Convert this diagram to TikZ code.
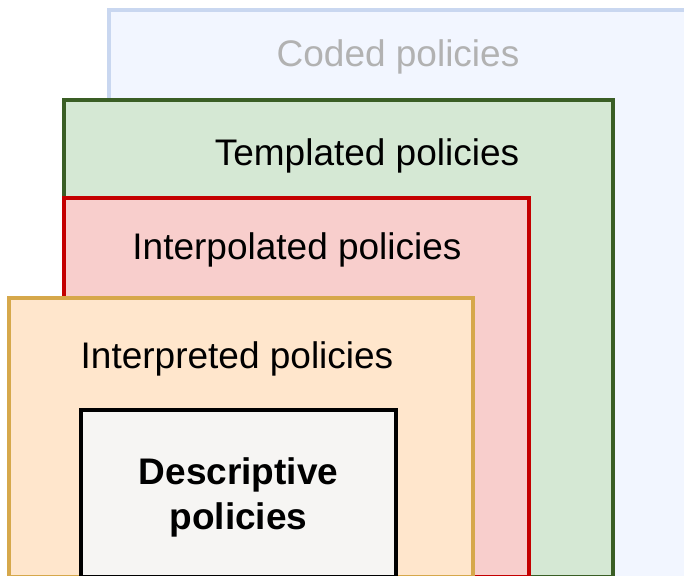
\documentclass[tikz,border=0pt]{standalone}
\usepackage{fontspec}
\setmainfont{Liberation Sans}
\definecolor{codedline}{RGB}{201,215,240}
\definecolor{codedfill}{RGB}{242,246,255}
\definecolor{codedtext}{RGB}{178,178,178}
\definecolor{templline}{RGB}{58,94,37}
\definecolor{templfill}{RGB}{213,232,212}
\definecolor{interpline}{RGB}{196,0,0}
\definecolor{interpfill}{RGB}{248,206,204}
\definecolor{interpretline}{RGB}{214,168,75}
\definecolor{interpretfill}{RGB}{255,230,204}
\definecolor{descfill}{RGB}{246,245,243}
\usetikzlibrary{positioning}

\begin{document}
\begin{tikzpicture}[
      x=1pt, y=-1pt,
      font=\fontsize{37}{45}\selectfont,
      layer/.style={rectangle, anchor=north west, line width=4.5pt, inner sep=0pt, outer sep=0pt},
      caption/.style={anchor=base, inner sep=0pt},
    ]
    \useasboundingbox (0,0) rectangle (684,575);
    % nested policy layers, outermost first
    \node[layer, draw=codedline, fill=codedfill, minimum width=600pt, minimum height=580pt] (coded) at (109,10) {};
    \node[layer, draw=templline, fill=templfill, minimum width=549pt, minimum height=477pt] (templated) at (64,100) {};
    \node[layer, draw=interpline, fill=interpfill, minimum width=465pt, minimum height=379pt] (interpolated) at (64,198) {};
    \node[layer, draw=interpretline, fill=interpretfill, minimum width=464pt, minimum height=279pt] (interpreted) at (9,298) {};
    \node[layer, draw=black, fill=descfill, minimum width=315pt, minimum height=167pt] (descriptive) at (81,410) {};

    \node[caption, text=codedtext] (codedtxt) at (398,67) {Coded policies};
    \node[caption] (templatedtxt) at (367,165) {Templated policies};
    \node[caption] (interpolatedtxt) at (297,259) {Interpolated policies};
    \node[caption] (interpretedtxt) at (237,368) {Interpreted policies};
    \node[align=center, font=\fontsize{37}{45}\selectfont\bfseries] (desctxt) at (238.5,497) {Descriptive\\policies};
  \end{tikzpicture}
\end{document}
